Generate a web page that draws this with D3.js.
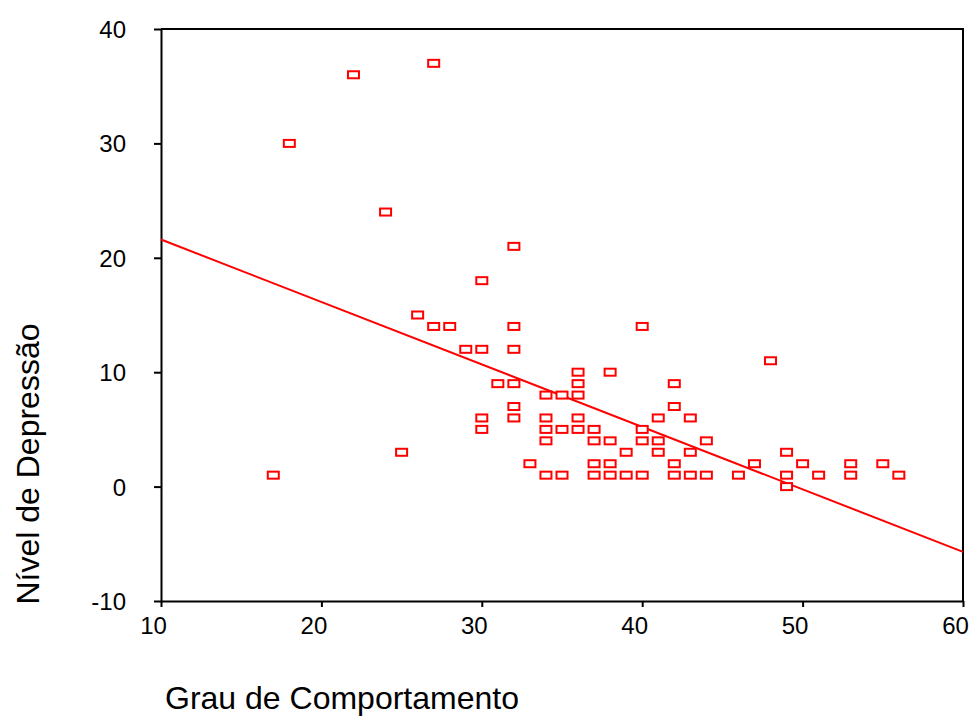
<!DOCTYPE html>
<html>
<head>
<meta charset="utf-8">
<script src="https://cdn.jsdelivr.net/npm/d3@7"></script>
<style>
    body { margin: 0; background: #fff; }
    svg { display: block; font-family: "Liberation Sans", Arial, sans-serif; }
</style>
</head>
<body>
<div id="chart"></div>
<script>
// Grau de Comportamento (x) and Nível de Depressão (y), one entry per case
const comportamento = [17, 18, 22, 24, 25, 26, 27, 27, 28, 29, 30, 30, 30, 30, 31, 32, 32, 32, 32, 32, 32, 33,
    34, 34, 34, 34, 34, 35, 35, 35, 36, 36, 36, 36, 36, 37, 37, 37, 37, 38, 38, 38, 38, 39, 39,
    40, 40, 40, 40, 41, 41, 41, 42, 42, 42, 42, 43, 43, 43, 44, 44, 46, 47, 48, 49, 49, 49, 50, 51, 53, 53, 55, 56];
const depressao = [1, 30, 36, 24, 3, 15, 37, 14, 14, 12, 18, 12, 6, 5, 9, 21, 14, 12, 9, 7, 6, 2,
    8, 6, 5, 4, 1, 8, 5, 1, 10, 9, 8, 6, 5, 5, 4, 2, 1, 10, 4, 2, 1, 3, 1,
    14, 5, 4, 1, 6, 4, 3, 9, 7, 2, 1, 6, 3, 1, 4, 1, 1, 2, 11, 3, 1, 0, 2, 1, 2, 1, 2, 1];

// fitted line, read at both ends of the x range
const fitX = [10, 60];
const fitY = [21.6, -5.7];

const xTicks = [10, 20, 30, 40, 50, 60];
const yTicks = [-10, 0, 10, 20, 30, 40];

const svgWidth = 970, svgHeight = 717;
const margin = { top: 29, right: 7, bottom: 116, left: 161 };
const width = svgWidth - margin.left - margin.right;
const height = svgHeight - margin.top - margin.bottom;

const svg = d3.select("#chart").append("svg")
    .attr("width", svgWidth)
    .attr("height", svgHeight);

const g = svg.append("g")
    .attr("transform", `translate(${margin.left},${margin.top})`);

const x = d3.scaleLinear().domain([10, 60]).range([0, width]);
const y = d3.scaleLinear().domain([-10, 40]).range([height, 0]);

// frame (top and right sides)
g.append("path")
    .attr("d", `M0,0H${width}V${height}`)
    .attr("fill", "none")
    .attr("stroke", "#000")
    .attr("stroke-width", 2);

// plain hyphen for negatives, like the original
const fmt = d => String(d);

const xAxis = g.append("g")
    .attr("transform", `translate(0,${height})`)
    .call(d3.axisBottom(x).tickValues(xTicks).tickFormat(fmt).tickSize(6).tickSizeOuter(0));

const yAxis = g.append("g")
    .call(d3.axisLeft(y).tickValues(yTicks).tickFormat(fmt).tickSize(7).tickSizeOuter(0));

[xAxis, yAxis].forEach(ax => {
    ax.select(".domain").attr("stroke", "#000").attr("stroke-width", 2);
    ax.selectAll(".tick line").attr("stroke", "#000").attr("stroke-width", 2);
    ax.selectAll(".tick text")
        .attr("fill", "#000")
        .style("font-size", "24px")
        .style("font-family", "\"Liberation Sans\", Arial, sans-serif");
});

xAxis.selectAll(".tick text").attr("dx", -8).attr("y", 16);
yAxis.selectAll(".tick text").attr("x", -35).attr("dy", "0.35em");

// regression line
g.append("line")
    .attr("x1", x(fitX[0]))
    .attr("y1", y(fitY[0]))
    .attr("x2", x(fitX[1]))
    .attr("y2", y(fitY[1]))
    .attr("stroke", "#ff0000")
    .attr("stroke-width", 2);

// hollow square markers
g.selectAll("rect.pt")
    .data(comportamento.map((d, i) => [d, depressao[i]]))
    .join("rect")
    .attr("class", "pt")
    .attr("x", d => x(d[0]) - 5.5)
    .attr("y", d => y(d[1]) - 3.5)
    .attr("width", 11)
    .attr("height", 7)
    .attr("fill", "#fff")
    .attr("stroke", "#ff0000")
    .attr("stroke-width", 2);

// axis titles
svg.append("text")
    .attr("x", 165)
    .attr("y", 709)
    .style("font-size", "32px")
    .text("Grau de Comportamento");

svg.append("text")
    .attr("transform", "translate(39,464) rotate(-90)")
    .attr("text-anchor", "middle")
    .style("font-size", "32px")
    .text("Nível de Depressão");
</script>
</body>
</html>
